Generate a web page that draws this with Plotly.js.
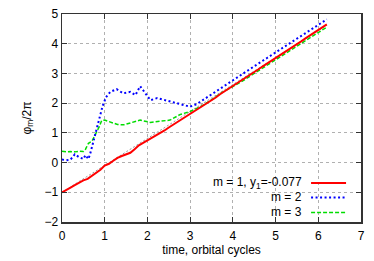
<!DOCTYPE html>
<html><head><meta charset="utf-8">
<script src="https://cdn.plot.ly/plotly-3.0.1.min.js"></script>
<style>html,body{margin:0;padding:0;background:#fff}#plot{width:374px;height:261px}</style>
</head><body><div id="plot"></div>
<script>
// m = 1
var x1 = [0,0.1,0.2,0.3,0.4,0.5,0.6,0.7,0.8,0.9,1.0,1.1,1.2,1.3,1.4,1.5,1.6,1.7,1.8,1.9,2.0,2.1,2.2,2.3,2.4,2.5,2.6,2.7,2.8,2.9,3.0,3.1,3.2,3.3,3.4,3.5,3.6,3.7,3.8,3.9,4.0,4.1,4.2,4.3,4.4,4.5,4.6,4.7,4.8,4.9,5.0,5.1,5.2,5.3,5.4,5.5,5.6,5.7,5.8,5.9,6.0,6.1,6.2];
var y1 = [-1.00,-0.93,-0.84,-0.76,-0.68,-0.60,-0.55,-0.44,-0.36,-0.24,-0.10,-0.04,0.06,0.16,0.22,0.27,0.33,0.45,0.58,0.66,0.74,0.82,0.92,0.98,1.08,1.18,1.27,1.37,1.46,1.55,1.64,1.74,1.83,1.92,2.01,2.10,2.19,2.30,2.39,2.48,2.58,2.67,2.77,2.86,2.95,3.05,3.14,3.24,3.33,3.42,3.52,3.61,3.71,3.80,3.89,3.99,4.08,4.18,4.27,4.37,4.46,4.56,4.65];
// m = 2
var x2 = [0,0.1,0.2,0.3,0.4,0.5,0.55,0.62,0.67,0.73,0.8,0.87,0.95,1.03,1.13,1.28,1.43,1.6,1.72,1.83,1.95,2.07,2.23,2.4,2.6,2.84,3.0,3.16,3.4,3.71,3.94,4.2,4.5,4.8,5.1,5.4,5.7,6.0,6.2];
var y2 = [0.10,0.08,0.10,0.28,0.18,0.12,0.25,0.12,0.35,0.69,1.10,1.43,1.90,2.20,2.38,2.47,2.33,2.38,2.27,2.57,2.33,2.10,2.17,2.10,2.02,1.94,1.88,1.97,2.20,2.50,2.72,2.96,3.24,3.52,3.80,4.08,4.36,4.64,4.82];
// m = 3
var x3 = [0,0.1,0.2,0.3,0.4,0.5,0.55,0.62,0.7,0.8,0.87,0.93,1.0,1.1,1.2,1.3,1.45,1.6,1.83,2.07,2.3,2.53,2.77,3.0,3.24,3.47,3.71,3.94,4.2,4.5,4.8,5.1,5.4,5.7,6.0,6.2];
var y3 = [0.38,0.36,0.37,0.36,0.38,0.37,0.45,0.65,0.72,0.99,1.20,1.42,1.43,1.38,1.33,1.28,1.27,1.33,1.43,1.35,1.38,1.43,1.62,1.72,1.88,2.08,2.33,2.50,2.72,3.00,3.28,3.56,3.83,4.11,4.38,4.56];
// linear fit
var xf = [0, 6.2];
var yf = [-1.0, 4.62];
var names = ['m = 1, y<sub>1</sub>=-0.077', 'm = 2', 'm = 3'];
var colors = ['#ff0000', '#0000ff', '#00dd00'];
var dashes = ['solid', '2px,2.5px', '4px,2px'];
var widths = [2, 2, 1.5];

var traces = [
  {x: xf, y: yf, mode: 'lines', line: {color: '#999', width: 1, dash: '2px,2px'}, showlegend: false, hoverinfo: 'skip'},
  {x: x3, y: y3, mode: 'lines', line: {color: colors[2], width: widths[2], dash: dashes[2]}, showlegend: false},
  {x: x2, y: y2, mode: 'lines', line: {color: colors[1], width: widths[1], dash: dashes[1]}, showlegend: false},
  {x: x1, y: y1, mode: 'lines', line: {color: colors[0], width: widths[0], dash: dashes[0]}, showlegend: false}
];

var legY = [0.188, 0.118, 0.046];
var annotations = [], shapes = [];
for (var i = 0; i < 3; i++) {
  annotations.push({xref: 'paper', yref: 'paper', x: 0.809, y: legY[i], xanchor: 'right', yanchor: 'middle',
    text: names[i], showarrow: false, font: {family: 'Liberation Sans, Arial, sans-serif', size: 12, color: '#000'}});
  shapes.push({type: 'line', xref: 'paper', yref: 'paper', x0: 0.833, x1: 0.950, y0: legY[i], y1: legY[i],
    line: {color: colors[i], width: widths[i], dash: dashes[i]}});
}

var axisCommon = {
  showline: true, linecolor: '#333', linewidth: 1.5, mirror: 'allticks',
  ticks: 'inside', ticklen: 5, tickwidth: 1, tickcolor: '#333',
  showgrid: true, gridcolor: '#b0b0b0', gridwidth: 1, griddash: 'dot',
  zeroline: false, dtick: 1,
  tickfont: {family: 'Liberation Sans, Arial, sans-serif', size: 12, color: '#000'}
};

var layout = {
  width: 374, height: 261,
  margin: {l: 62, r: 13, t: 14, b: 39},
  paper_bgcolor: '#fff', plot_bgcolor: '#fff',
  font: {family: 'Liberation Sans, Arial, sans-serif', size: 12, color: '#000'},
  xaxis: Object.assign({}, axisCommon, {range: [0, 7], tick0: 0, ticklabelstandoff: 2,
    title: {text: 'time, orbital cycles', font: {size: 12}, standoff: 3}}),
  yaxis: Object.assign({}, axisCommon, {range: [-2, 5], tick0: 0,
    title: {text: 'φ<sub>m</sub>/2π', font: {size: 12}, standoff: 10}}),
  annotations: annotations,
  shapes: shapes,
  showlegend: false
};

Plotly.newPlot('plot', traces, layout, {displayModeBar: false, staticPlot: true});
</script>
</body></html>
